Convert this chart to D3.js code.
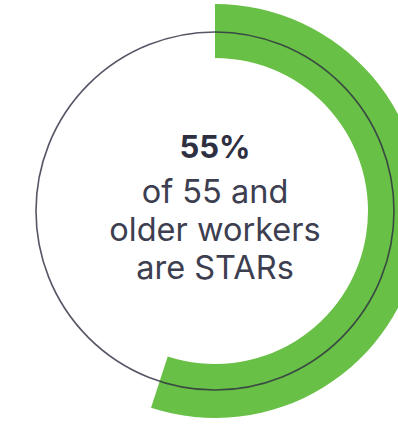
<!DOCTYPE html>
<html>
<head>
<meta charset="utf-8">
<script src="https://cdn.jsdelivr.net/npm/d3@7"></script>
<style>
  html, body { margin: 0; padding: 0; background: #ffffff; }
  svg { display: block; }
</style>
</head>
<body>
<svg id="chart" width="398" height="426"></svg>
<script>
// Share of 55-and-older workers who are STARs
const shareValue = [55];          // percent
const scaleMax = [100];
const headline = ["55%"];
const captionLines = ["of 55 and", "older workers", "are STARs"];

const W = 398, H = 426;
const cx = 215, cy = 211;
const ringR = 179;       // thin outline circle
const bandInner = 153;   // green progress band
const bandOuter = 207;

const svg = d3.select("#chart");
const g = svg.append("g").attr("transform", `translate(${cx},${cy})`);

// Angle scale: 0 at 12 o'clock, clockwise
const angle = d3.scaleLinear().domain([0, scaleMax[0]]).range([0, 2 * Math.PI]);

const arc = d3.arc()
  .innerRadius(bandInner)
  .outerRadius(bandOuter)
  .startAngle(0);

g.selectAll("path.band")
  .data(shareValue)
  .join("path")
  .attr("class", "band")
  .attr("d", d => arc({ endAngle: angle(d) }))
  .attr("fill", "#69c046");

// Thin outline circle drawn over the band
g.append("circle")
  .attr("r", ringR)
  .attr("fill", "none")
  .attr("stroke", "#2c2c40")
  .attr("stroke-opacity", 0.8)
  .attr("stroke-width", 1.6);

// Centre label
const font = "Inter, 'Liberation Sans', Arial, sans-serif";
g.append("text")
  .attr("x", 0)
  .attr("y", 158 - cy)
  .attr("text-anchor", "middle")
  .attr("font-family", font)
  .attr("font-weight", "bold")
  .attr("font-size", 31)
  .attr("fill", "#2e2f40")
  .text(headline[0]);

const lineY = [203, 241, 279];
g.selectAll("text.caption")
  .data(captionLines)
  .join("text")
  .attr("class", "caption")
  .attr("x", 0)
  .attr("y", (d, i) => lineY[i] - cy)
  .attr("text-anchor", "middle")
  .attr("font-family", font)
  .attr("font-size", 32.5)
  .attr("fill", "#3d3e50")
  .text(d => d);
</script>
</body>
</html>
